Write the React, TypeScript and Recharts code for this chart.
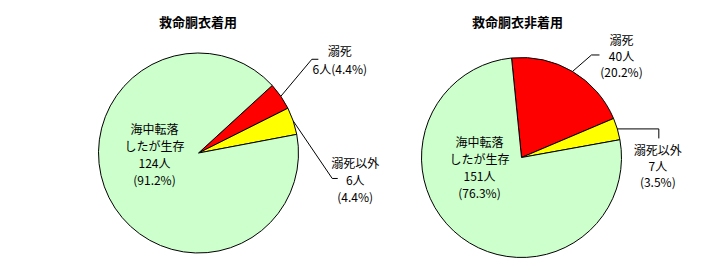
import React from 'react';
import { PieChart, Pie, Cell } from 'recharts';

const categories = ['溺死', '溺死以外', '海中転落したが生存'];
const wearingValues = [6, 6, 124];
const notWearingValues = [40, 7, 151];
const titles = ['救命胴衣着用', '救命胴衣非着用'];
const colors = ['#FF0000', '#FFFF00', '#CCFFCC'];

const FONT = '"Noto Sans CJK JP", "Noto Sans", sans-serif';
const RAD = Math.PI / 180;

type LabelCfg = {
  lines: (name: string, v: number, pct: string) => string[];
  textDx: number;
  textDy: number;
  lineH: number;
  leader?: [number, number][];
  fromCenter?: boolean;
};

const leftCfg: LabelCfg[] = [
  {
    lines: (n, v, p) => [n, `${v}人(${p}%)`],
    textDx: 59,
    textDy: -45.5,
    lineH: 17.5,
    leader: [[31, -37], [37.5, -37]],
  },
  {
    lines: (n, v, p) => [n, `${v}人`, `(${p}%)`],
    textDx: 62,
    textDy: 42,
    lineH: 17,
    leader: [[39, 57.5], [44.5, 57.5]],
  },
  {
    lines: (n, v, p) => ['海中転落', 'したが生存', `${v}人`, `(${p}%)`],
    textDx: -44,
    textDy: -25,
    lineH: 17,
    fromCenter: true,
  },
];

const rightCfg: LabelCfg[] = [
  {
    lines: (n, v, p) => [n, `${v}人`, `(${p}%)`],
    textDx: 49,
    textDy: -32,
    lineH: 16,
    leader: [[19, -16.5], [27, -16.5]],
  },
  {
    lines: (n, v, p) => [n, `${v}人`, `(${p}%)`],
    textDx: 40.5,
    textDy: 21,
    lineH: 16,
    leader: [[41.5, 0], [41.5, 9.5]],
  },
  {
    lines: (n, v, p) => ['海中転落', 'したが生存', `${v}人`, `(${p}%)`],
    textDx: -42,
    textDy: -16.5,
    lineH: 17,
    fromCenter: true,
  },
];

const makeData = (values: number[]) => {
  const total = values.reduce((a, b) => a + b, 0);
  return categories.map((name, i) => ({
    name,
    value: values[i],
    pct: ((values[i] / total) * 100).toFixed(1),
  }));
};

const wearingData = makeData(wearingValues);
const notWearingData = makeData(notWearingValues);

const makeLabel = (cfg: LabelCfg[]) => (props: any) => {
  const { cx, cy, midAngle, outerRadius, index, payload } = props;
  const c = cfg[index];
  const ex = cx + outerRadius * Math.cos(-midAngle * RAD);
  const ey = cy + outerRadius * Math.sin(-midAngle * RAD);
  const bx = c.fromCenter ? cx : ex;
  const by = c.fromCenter ? cy : ey;
  const lines = c.lines(payload.name, payload.value, payload.pct);
  const pts = c.leader ? [[ex, ey], ...c.leader.map(([dx, dy]) => [ex + dx, ey + dy])] : null;
  return (
    <g key={`lbl-${index}`}>
      {pts && (
        <polyline
          points={pts.map((p) => p.join(',')).join(' ')}
          fill="none"
          stroke="#000"
          strokeWidth={1}
        />
      )}
      <text
        x={bx + c.textDx}
        y={by + c.textDy}
        textAnchor="middle"
        fontSize={12}
        fontFamily={FONT}
        fill="#000"
      >
        {lines.map((t, i) => (
          <tspan key={i} x={bx + c.textDx} y={by + c.textDy + i * c.lineH} dominantBaseline="central">
            {t}
          </tspan>
        ))}
      </text>
    </g>
  );
};

export default function App() {
  return (
    <div style={{ position: 'absolute', left: 0, top: 0, background: '#fff' }}>
      <PieChart width={716} height={272} margin={{ top: 0, right: 0, bottom: 0, left: 0 }}>
        <text x={198} y={21} textAnchor="middle" dominantBaseline="central" fontSize={13} fontWeight="bold" fontFamily={FONT} fill="#000">
          {titles[0]}
        </text>
        <text x={517.5} y={21} textAnchor="middle" dominantBaseline="central" fontSize={13} fontWeight="bold" fontFamily={FONT} fill="#000">
          {titles[1]}
        </text>
        <Pie
          data={wearingData}
          dataKey="value"
          nameKey="name"
          cx={198.5}
          cy={153}
          outerRadius={100}
          startAngle={42.5}
          endAngle={42.5 - 360}
          stroke="#000"
          strokeWidth={1}
          label={makeLabel(leftCfg)}
          labelLine={false}
          isAnimationActive={false}
        >
          {wearingData.map((d, i) => (
            <Cell key={d.name} fill={colors[i]} stroke="#000" strokeWidth={1} />
          ))}
        </Pie>
        <Pie
          data={notWearingData}
          dataKey="value"
          nameKey="name"
          cx={521.5}
          cy={157.5}
          outerRadius={100}
          startAngle={95.7}
          endAngle={95.7 - 360}
          stroke="#000"
          strokeWidth={1}
          label={makeLabel(rightCfg)}
          labelLine={false}
          isAnimationActive={false}
        >
          {notWearingData.map((d, i) => (
            <Cell key={d.name} fill={colors[i]} stroke="#000" strokeWidth={1} />
          ))}
        </Pie>
      </PieChart>
    </div>
  );
}
